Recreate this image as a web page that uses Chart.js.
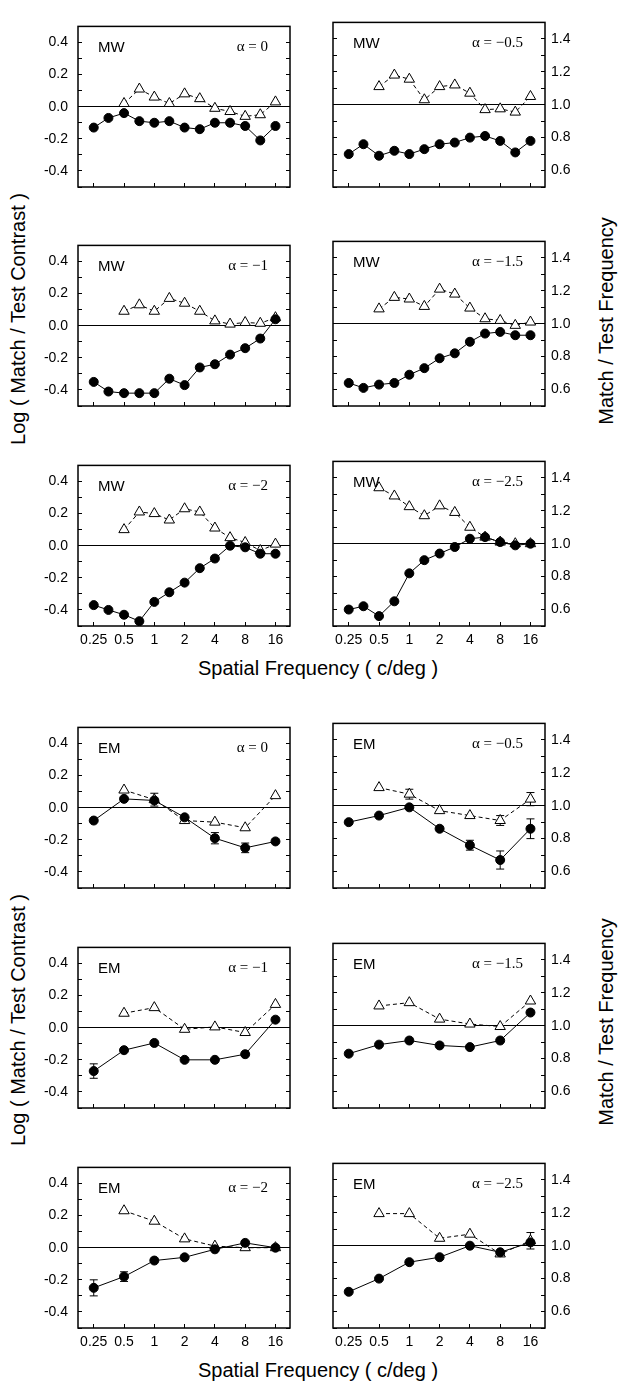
<!DOCTYPE html>
<html>
<head>
<meta charset="utf-8">
<script src="https://cdn.jsdelivr.net/npm/chart.js@4.4.1/dist/chart.umd.min.js"></script>
<style>
  body { margin: 0; background: #fff; width: 619px; height: 1387px; position: relative; overflow: hidden; font-family: "Liberation Sans", Arial, sans-serif; }
  canvas { position: absolute; }
  .title { position: absolute; font-size: 20px; white-space: nowrap; color: #000; transform: translate(-50%, -50%); }
  .rot { transform: translate(-50%, -50%) rotate(-90deg); }
</style>
</head>
<body>
<div class="title rot" style="left:18px;top:319px">Log ( Match / Test Contrast )</div>
<div class="title rot" style="left:606px;top:321px">Match / Test Frequency</div>
<div class="title" style="left:318px;top:668px">Spatial Frequency ( c/deg )</div>
<div class="title rot" style="left:18px;top:1020px">Log ( Match / Test Contrast )</div>
<div class="title rot" style="left:606px;top:1022px">Match / Test Frequency</div>
<div class="title" style="left:318px;top:1370px">Spatial Frequency ( c/deg )</div>
<script>
// x: spatial frequency (c/deg), plotted on a log2 axis
const mwFreq = [0.25, 0.35, 0.5, 0.71, 1, 1.41, 2, 2.83, 4, 5.66, 8, 11.3, 16];
const emFreq = [0.25, 0.5, 1, 2, 4, 8, 16];
const xTickValues = [0.25, 0.5, 1, 2, 4, 8, 16];
const xTickLabels = ['0.25', '0.5', '1', '2', '4', '8', '16'];
const alphaLabels = ['α = 0', 'α = −0.5', 'α = −1', 'α = −1.5', 'α = −2', 'α = −2.5'];

// MW: log(match/test contrast), filled circles
const mwContrast0   = [-0.13, -0.07, -0.04, -0.09, -0.10, -0.09, -0.13, -0.14, -0.10, -0.10, -0.12, -0.21, -0.12];
const mwContrast05  = [-0.30, -0.24, -0.31, -0.28, -0.30, -0.27, -0.24, -0.23, -0.20, -0.19, -0.22, -0.29, -0.22];
const mwContrast1   = [-0.35, -0.41, -0.42, -0.42, -0.42, -0.33, -0.37, -0.26, -0.24, -0.18, -0.14, -0.08, 0.04];
const mwContrast15  = [-0.36, -0.39, -0.37, -0.36, -0.31, -0.27, -0.21, -0.18, -0.11, -0.06, -0.05, -0.07, -0.07];
const mwContrast2   = [-0.37, -0.40, -0.43, -0.47, -0.35, -0.29, -0.23, -0.14, -0.08, 0.00, -0.01, -0.05, -0.05];
const mwContrast25  = [-0.40, -0.38, -0.44, -0.35, -0.18, -0.10, -0.06, -0.02, 0.03, 0.04, 0.01, -0.01, 0.00];

// MW: match/test frequency, open triangles
const mwRatio0  = [null, null, 1.02, 1.11, 1.06, 1.02, 1.08, 1.05, 0.99, 0.97, 0.94, 0.95, 1.03];
const mwRatio05 = [null, null, 1.11, 1.18, 1.155, 1.03, 1.11, 1.12, 1.07, 0.97, 0.975, 0.955, 1.05];
const mwRatio1  = [null, null, 1.09, 1.13, 1.09, 1.17, 1.14, 1.09, 1.03, 1.01, 1.02, 1.015, 1.05];
const mwRatio15 = [null, null, 1.09, 1.16, 1.15, 1.105, 1.21, 1.18, 1.095, 1.03, 1.02, 0.99, 1.01];
const mwRatio2  = [null, null, 1.10, 1.21, 1.20, 1.16, 1.23, 1.21, 1.11, 1.05, 1.02, 0.97, 1.01];
const mwRatio25 = [null, null, 1.34, 1.29, 1.225, 1.17, 1.23, 1.19, 1.10, 1.04, 1.01, 1.00, 1.00];

// EM: log(match/test contrast)
const emContrast0  = [-0.08, 0.055, 0.045, -0.06, -0.19, -0.25, -0.21];
const emContrast05 = [-0.10, -0.06, -0.01, -0.14, -0.24, -0.33, -0.14];
const emContrast1  = [-0.27, -0.14, -0.095, -0.20, -0.20, -0.165, 0.05];
const emContrast15 = [-0.17, -0.115, -0.09, -0.12, -0.13, -0.09, 0.08];
const emContrast2  = [-0.25, -0.18, -0.08, -0.06, -0.01, 0.03, 0.00];
const emContrast25 = [-0.28, -0.20, -0.10, -0.07, 0.00, -0.04, 0.02];

// EM: match/test frequency
const emRatio0  = [null, 1.11, 1.05, 0.92, 0.91, 0.875, 1.075];
const emRatio05 = [null, 1.11, 1.07, 0.97, 0.94, 0.91, 1.04];
const emRatio1  = [null, 1.09, 1.125, 0.99, 1.005, 0.97, 1.145];
const emRatio15 = [null, 1.12, 1.14, 1.04, 1.01, 0.995, 1.15];
const emRatio2  = [null, 1.23, 1.165, 1.055, 1.01, 1.00, 1.00];
const emRatio25 = [null, 1.195, 1.195, 1.045, 1.07, 0.95, 1.03];

// EM error bars (half-widths)
const emContrastErr0  = [0, 0, 0, 0, 0.035, 0.03, 0];
const emContrastErr05 = [0, 0, 0, 0, 0.03, 0.055, 0.06];
const emContrastErr1  = [0.045, 0, 0, 0, 0, 0, 0];
const emContrastErr15 = [0, 0, 0, 0, 0, 0, 0];
const emContrastErr2  = [0.05, 0.03, 0, 0, 0, 0, 0];
const emContrastErr25 = [0, 0, 0, 0, 0, 0, 0];
const emRatioErr0  = [0, 0, 0.04, 0, 0, 0, 0];
const emRatioErr05 = [0, 0, 0.03, 0, 0, 0.03, 0.04];
const emRatioErr1  = [0, 0, 0, 0, 0, 0, 0];
const emRatioErr15 = [0, 0, 0, 0, 0, 0, 0];
const emRatioErr2  = [0, 0, 0, 0, 0, 0, 0];
const emRatioErr25 = [0, 0, 0, 0, 0, 0, 0.05];

const colX = [78, 333];
const rowTop = [12, 231, 451, 713, 933, 1153];
const plotW = 212, plotH = 175;

Chart.defaults.font.family = '"Liberation Sans", Arial, sans-serif';
Chart.defaults.font.size = 14;
Chart.defaults.color = '#000';

const frame = {
  id: 'frame',
  afterDatasetsDraw(chart) {
    const {ctx, chartArea: a} = chart;
    ctx.save();
    ctx.strokeStyle = '#000';
    ctx.lineWidth = 1.5;
    ctx.strokeRect(a.left, a.top, a.right - a.left, a.bottom - a.top);
    ctx.restore();
  }
};

const panelText = {
  id: 'panelText',
  afterDraw(chart, args, opts) {
    const {ctx, chartArea: a} = chart;
    ctx.save();
    ctx.fillStyle = '#000';
    ctx.textBaseline = 'middle';
    ctx.font = '15px "Liberation Sans"';
    ctx.textAlign = 'left';
    ctx.fillText(opts.subject, a.left + 20, a.top + 21);
    ctx.font = '15px "Liberation Serif"';
    ctx.textAlign = 'right';
    ctx.fillText(opts.alpha, a.right - 22, a.top + 21);
    ctx.restore();
  }
};

const errorBars = {
  id: 'errorBars',
  beforeDatasetsDraw(chart) {
    const ctx = chart.ctx;
    chart.data.datasets.forEach(ds => {
      if (!ds.errors) return;
      const ys = chart.scales[ds.yAxisID];
      ds.data.forEach((pt, i) => {
        const e = ds.errors[i];
        if (pt.y == null || !e) return;
        const x = chart.scales.x.getPixelForValue(pt.x);
        const yt = ys.getPixelForValue(pt.y + e), yb = ys.getPixelForValue(pt.y - e);
        ctx.save();
        ctx.strokeStyle = '#000';
        ctx.lineWidth = 1;
        ctx.beginPath();
        ctx.moveTo(x, yt); ctx.lineTo(x, yb);
        ctx.moveTo(x - 4, yt); ctx.lineTo(x + 4, yt);
        ctx.moveTo(x - 4, yb); ctx.lineTo(x + 4, yb);
        ctx.stroke();
        ctx.restore();
      });
    });
  }
};

function evenTenth(v) {
  return Math.round(v * 10) % 2 === 0 ? v.toFixed(1) : '';
}

function makePanel(subject, k, freq, contrast, ratio, cErr, rErr) {
  const col = k % 2;
  const row = (subject === 'MW' ? 0 : 3) + Math.floor(k / 2);
  const bottomRow = k >= 4;
  const cv = document.createElement('canvas');
  cv.width = 48 + plotW + 40;
  cv.height = 8 + plotH + 30;
  cv.style.left = (colX[col] - 48) + 'px';
  cv.style.top = (rowTop[row] - 8) + 'px';
  document.body.appendChild(cv);

  new Chart(cv, {
    type: 'line',
    data: {
      datasets: [
        {
          yAxisID: 'y',
          data: freq.map((f, i) => ({x: Math.log2(f), y: contrast[i]})),
          errors: cErr,
          borderColor: '#000',
          borderWidth: 1,
          pointRadius: 4.5,
          pointBackgroundColor: '#000',
          pointBorderColor: '#000',
          tension: 0
        },
        {
          yAxisID: 'y1',
          data: freq.map((f, i) => ({x: Math.log2(f), y: ratio[i]})),
          errors: rErr,
          borderColor: '#000',
          borderWidth: 1,
          borderDash: [4, 3],
          pointStyle: 'triangle',
          pointRadius: 6,
          pointBorderWidth: 1,
          pointBackgroundColor: '#fff',
          pointBorderColor: '#000',
          tension: 0
        }
      ]
    },
    options: {
      responsive: false,
      animation: false,
      events: [],
      layout: {padding: {top: 8, left: 0, right: 0, bottom: 0}},
      scales: {
        x: {
          type: 'linear',
          min: -2.52,
          max: 4.48,
          afterBuildTicks: s => { s.ticks = xTickValues.map(v => ({value: Math.log2(v)})); },
          afterFit: s => { s.height = 30; },
          ticks: {display: bottomRow, autoSkip: false, maxRotation: 0, padding: 10,
                  callback: (v, i) => xTickLabels[i]},
          grid: {drawOnChartArea: false, tickLength: -4, tickColor: '#000'},
          border: {display: false}
        },
        y: {
          position: 'left',
          min: -0.5,
          max: 0.5,
          afterFit: s => { s.width = 48; },
          ticks: {display: col === 0, autoSkip: false, stepSize: 0.1, includeBounds: false, padding: 14, callback: evenTenth},
          grid: {
            color: c => Math.abs(c.tick.value) < 1e-9 ? '#000' : 'rgba(0,0,0,0)',
            tickColor: '#000',
            tickLength: -4,
            lineWidth: 1
          },
          border: {display: false}
        },
        y1: {
          position: 'right',
          min: 0.5,
          max: 1.5,
          afterFit: s => { s.width = 40; },
          ticks: {display: col === 1, autoSkip: false, stepSize: 0.1, includeBounds: false, padding: 10, callback: evenTenth},
          grid: {drawOnChartArea: false, tickLength: -4, tickColor: '#000'},
          border: {display: false}
        }
      },
      plugins: {
        legend: {display: false},
        tooltip: {enabled: false},
        panelText: {subject: subject, alpha: alphaLabels[k]}
      }
    },
    plugins: [errorBars, frame, panelText]
  });
}

makePanel('MW', 0, mwFreq, mwContrast0, mwRatio0);
makePanel('MW', 1, mwFreq, mwContrast05, mwRatio05);
makePanel('MW', 2, mwFreq, mwContrast1, mwRatio1);
makePanel('MW', 3, mwFreq, mwContrast15, mwRatio15);
makePanel('MW', 4, mwFreq, mwContrast2, mwRatio2);
makePanel('MW', 5, mwFreq, mwContrast25, mwRatio25);

makePanel('EM', 0, emFreq, emContrast0, emRatio0, emContrastErr0, emRatioErr0);
makePanel('EM', 1, emFreq, emContrast05, emRatio05, emContrastErr05, emRatioErr05);
makePanel('EM', 2, emFreq, emContrast1, emRatio1, emContrastErr1, emRatioErr1);
makePanel('EM', 3, emFreq, emContrast15, emRatio15, emContrastErr15, emRatioErr15);
makePanel('EM', 4, emFreq, emContrast2, emRatio2, emContrastErr2, emRatioErr2);
makePanel('EM', 5, emFreq, emContrast25, emRatio25, emContrastErr25, emRatioErr25);
</script>
</body>
</html>
